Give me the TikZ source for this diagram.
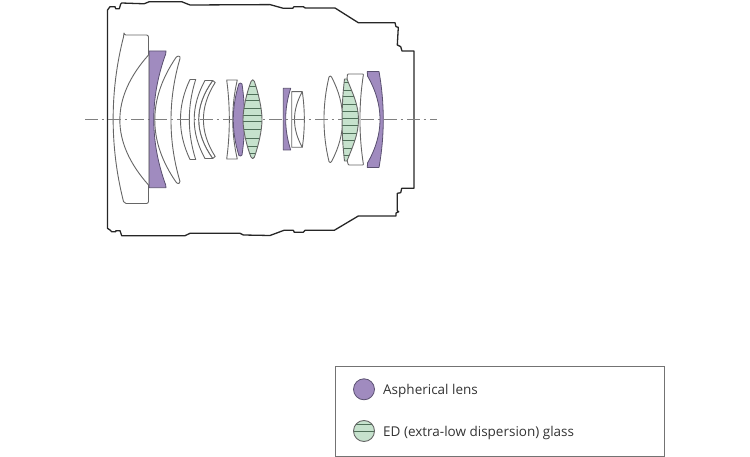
\documentclass[tikz,border=0pt]{standalone}
\usepackage{fontspec}
\setmainfont{Open Sans}
\definecolor{purp}{HTML}{A08BBF}
\definecolor{pedge}{HTML}{5A5070}
\definecolor{edg}{HTML}{666666}
\definecolor{grn}{HTML}{C6E2CD}
\definecolor{gline}{HTML}{4E6F58}
\definecolor{txt}{HTML}{333333}
\tikzset{
  barrel/.style={draw=black!85,line width=1.3pt,line join=round},
  wlens/.style={draw=edg,fill=white,line width=0.9pt,line join=round},
  plens/.style={draw=pedge,fill=purp,line width=0.8pt,line join=round},
  glens/.style={draw=edg,line width=0.9pt,line join=round},
  gfill/.style={fill=grn},
  gl/.style={draw=gline,line width=0.85pt},
  axisline/.style={draw=black!50,line width=0.7pt,dash pattern=on 13pt off 3.5pt on 2.5pt off 4pt},
  legendbox/.style={draw=black!55,line width=0.9pt},
  legendtext/.style={anchor=base west,text=txt,font=\fontsize{13.5}{16}\selectfont,inner sep=0pt}
}
\def\gA{(251,81.5) .. controls (252,79.2) and (253.4,79.2) .. (254.4,81.5) .. controls (258,92) and (262,108) .. (262,119.5) .. controls (262,131) and (258,147) .. (254.4,157) .. controls (253.4,159.2) and (252,159.2) .. (251,157) .. controls (247,147) and (243,131) .. (243,119.5) .. controls (243,108) and (247,92) .. (251,81.5) -- cycle}
\def\gB{(344.5,79) -- (347,79) .. controls (352,92) and (358.5,104) .. (358.5,119.5) .. controls (358.5,135) and (352,148) .. (347,161) -- (344.5,161) .. controls (343,148) and (342,135) .. (342.2,119.5) .. controls (342,105) and (343,92) .. (344.5,79) -- cycle}
\begin{document}
\begin{tikzpicture}[x=1pt,y=-1pt]
\useasboundingbox (0,0) rectangle (750,457);
% barrel
\draw[barrel] (107.5,119) -- (107.5,10) -- (110,6.7) -- (115,6.7) -- (115.7,8.7) -- (119.3,8.7) -- (120.7,4) -- (121.7,3) -- (141.7,3.7) -- (144.3,3.7) -- (149.3,1.7) -- (181.7,1.7) -- (190,5) -- (270,4.6) -- (283.3,8.3) -- (292.7,8.3) -- (294,6.7) -- (303.3,6.7) -- (305.3,8) -- (335,8) -- (358.3,22.7) -- (395,22.7) -- (396,26.7) -- (398.3,27.3) -- (397.3,45) -- (400.7,46.7) -- (402,51) -- (414,51) -- (414,188.3) -- (401.7,188.3) -- (400.7,192.7) -- (397.3,193.3) -- (397.3,210.7) -- (398.7,211.7) -- (396,213) -- (396,216) -- (358.3,216) -- (334.3,230.3) -- (305,230.3) -- (303.3,232.3) -- (294.3,232.3) -- (293.3,230.3) -- (284,230.3) -- (270,235.5) -- (243.3,235) -- (240,233.3) -- (190,233.3) -- (185,235.7) -- (145,235.7) -- (121.7,235.7) -- (120,230.7) -- (115.7,230.7) -- (115.7,231.7) -- (111.7,231.7) -- (110,230) -- (107.5,228.3) -- cycle;
% white lenses
\draw[wlens,rounded corners=2pt] (124,35) -- (148.5,35) -- (148.5,203.5) -- (124,203.5) .. controls (109.7,147) and (109.7,91) .. (124,35) -- cycle;
\draw[wlens] (148.5,55) .. controls (110.3,98) and (110.3,142) .. (148.5,185);
\draw[wlens] (176,57.5) .. controls (177.5,55.3) and (180.8,55.8) .. (180,58.5) .. controls (168,99.5) and (168,141) .. (180,181.5) .. controls (180.8,184) and (177.5,184.3) .. (176,182) .. controls (147.7,141) and (147.7,99) .. (176,57.5) -- cycle;
\draw[wlens] (190,79.5) -- (195.7,79.5) .. controls (187.2,106) and (187.2,133) .. (195.7,159.5) -- (190,159.5) .. controls (177.3,133) and (177.3,106) .. (190,79.5) -- cycle;
\draw[wlens] (212.7,80.5) -- (215.2,82.5) .. controls (199.5,107) and (199.5,132) .. (215.2,156.5) -- (212.7,158.5) .. controls (194,132.5) and (194,106.5) .. (212.7,80.5) -- cycle;
\draw[wlens] (205,80.5) -- (212.7,80.5) .. controls (194,106.5) and (194,132.5) .. (212.7,158.5) -- (205,158.5) .. controls (190.6,132.5) and (190.6,106.5) .. (205,80.5) -- cycle;
\draw[wlens] (226.7,80) -- (237.3,80) .. controls (231.2,106.3) and (231.2,132.7) .. (237.3,159) -- (226.7,159) .. controls (230.2,132.7) and (230.2,106.3) .. (226.7,80) -- cycle;
\draw[wlens] (291.7,91.7) -- (302.3,91.7) .. controls (291.9,110.2) and (291.9,128.8) .. (302.3,147.3) -- (291.7,147.3) -- cycle;
\draw[wlens] (302.3,91.7) .. controls (305,110) and (305,129) .. (302.3,147.3);
\draw[wlens] (329,77) .. controls (329.8,75.6) and (330.8,75.6) .. (331.5,77) .. controls (346.4,105) and (346.4,134) .. (331.5,161.5) .. controls (330.8,163) and (329.8,163) .. (329,161.5) .. controls (322.3,134) and (322.3,105) .. (329,77) -- cycle;
\draw[wlens,rounded corners=0.8pt] (347.5,74) -- (363.5,74) .. controls (358.8,104.3) and (358.8,134.7) .. (363.5,165) -- (348.3,165) -- (347,160) -- (347,79) -- cycle;
% axis
\coordinate (axisL) at (85,119.5);
\coordinate (axisR) at (437,119.5);
\draw[axisline] (axisL) -- (axisR);
% aspherical lenses
\draw[plens] (149.3,51) -- (166,51) -- (165.7,54) .. controls (149.8,97.7) and (149.8,141.3) .. (165.7,185) -- (166,187.7) -- (149.3,187.7) -- cycle;
\draw[plens] (239,83.5) .. controls (240,82.8) and (241.5,83) .. (242,84) .. controls (245.5,107.6) and (245.5,131.6) .. (242,155) .. controls (241.5,156) and (240,156.2) .. (239,155.7) .. controls (231.4,131.6) and (231.4,107.6) .. (239,83.5) -- cycle;
\draw[plens] (283.3,88.3) -- (290.7,88.3) .. controls (284,109) and (284,129.3) .. (290.7,150) -- (283.3,150) -- cycle;
\draw[plens] (367.3,71.5) -- (379,71.5) .. controls (384.7,103.5) and (384.7,135.5) .. (379,167.5) -- (367.3,167.5) -- (367.5,163) .. controls (384.2,134) and (384.2,105) .. (367.5,76) -- cycle;
% ED lenses
\fill[gfill] \gA;
\begin{scope}
\clip \gA;
\foreach \yy in {86.7,94,100.7,108.3,115,121.7,129.3,138.3,146,153.3}
  \draw[gl] (240,\yy) -- (265,\yy);
\end{scope}
\draw[glens] \gA;
\fill[gfill] \gB;
\begin{scope}
\clip \gB;
\foreach \yy in {82.7,90,96.7,104,111.7,118.3,125.7,133.3,140.7,148.3,155}
  \draw[gl] (340,\yy) -- (362,\yy);
\end{scope}
\draw[glens] \gB;
% legend
\node[legendbox,draw,rectangle,minimum width=329.5pt,minimum height=90pt,anchor=north west,inner sep=0pt] (legend) at (334.5,366) {};
\node[circle,plens,minimum size=21pt,inner sep=0pt] (aspc) at (364,389.3) {};
\node[circle,fill=grn,minimum size=21pt,inner sep=0pt] (edc) at (364,431) {};
\begin{scope}
\clip (364,431) circle (10.5pt);
\draw[gl] (352,424.5) -- (376,424.5);
\draw[gl] (352,431.5) -- (376,431.5);
\end{scope}
\node[circle,draw=edg,line width=0.9pt,minimum size=21pt,inner sep=0pt] (edo) at (364,431) {};
\node[legendtext] (asp) at (383,394) {Aspherical lens};
\node[legendtext] (ed) at (383,436) {ED (extra-low dispersion) glass};
\end{tikzpicture}
\end{document}
